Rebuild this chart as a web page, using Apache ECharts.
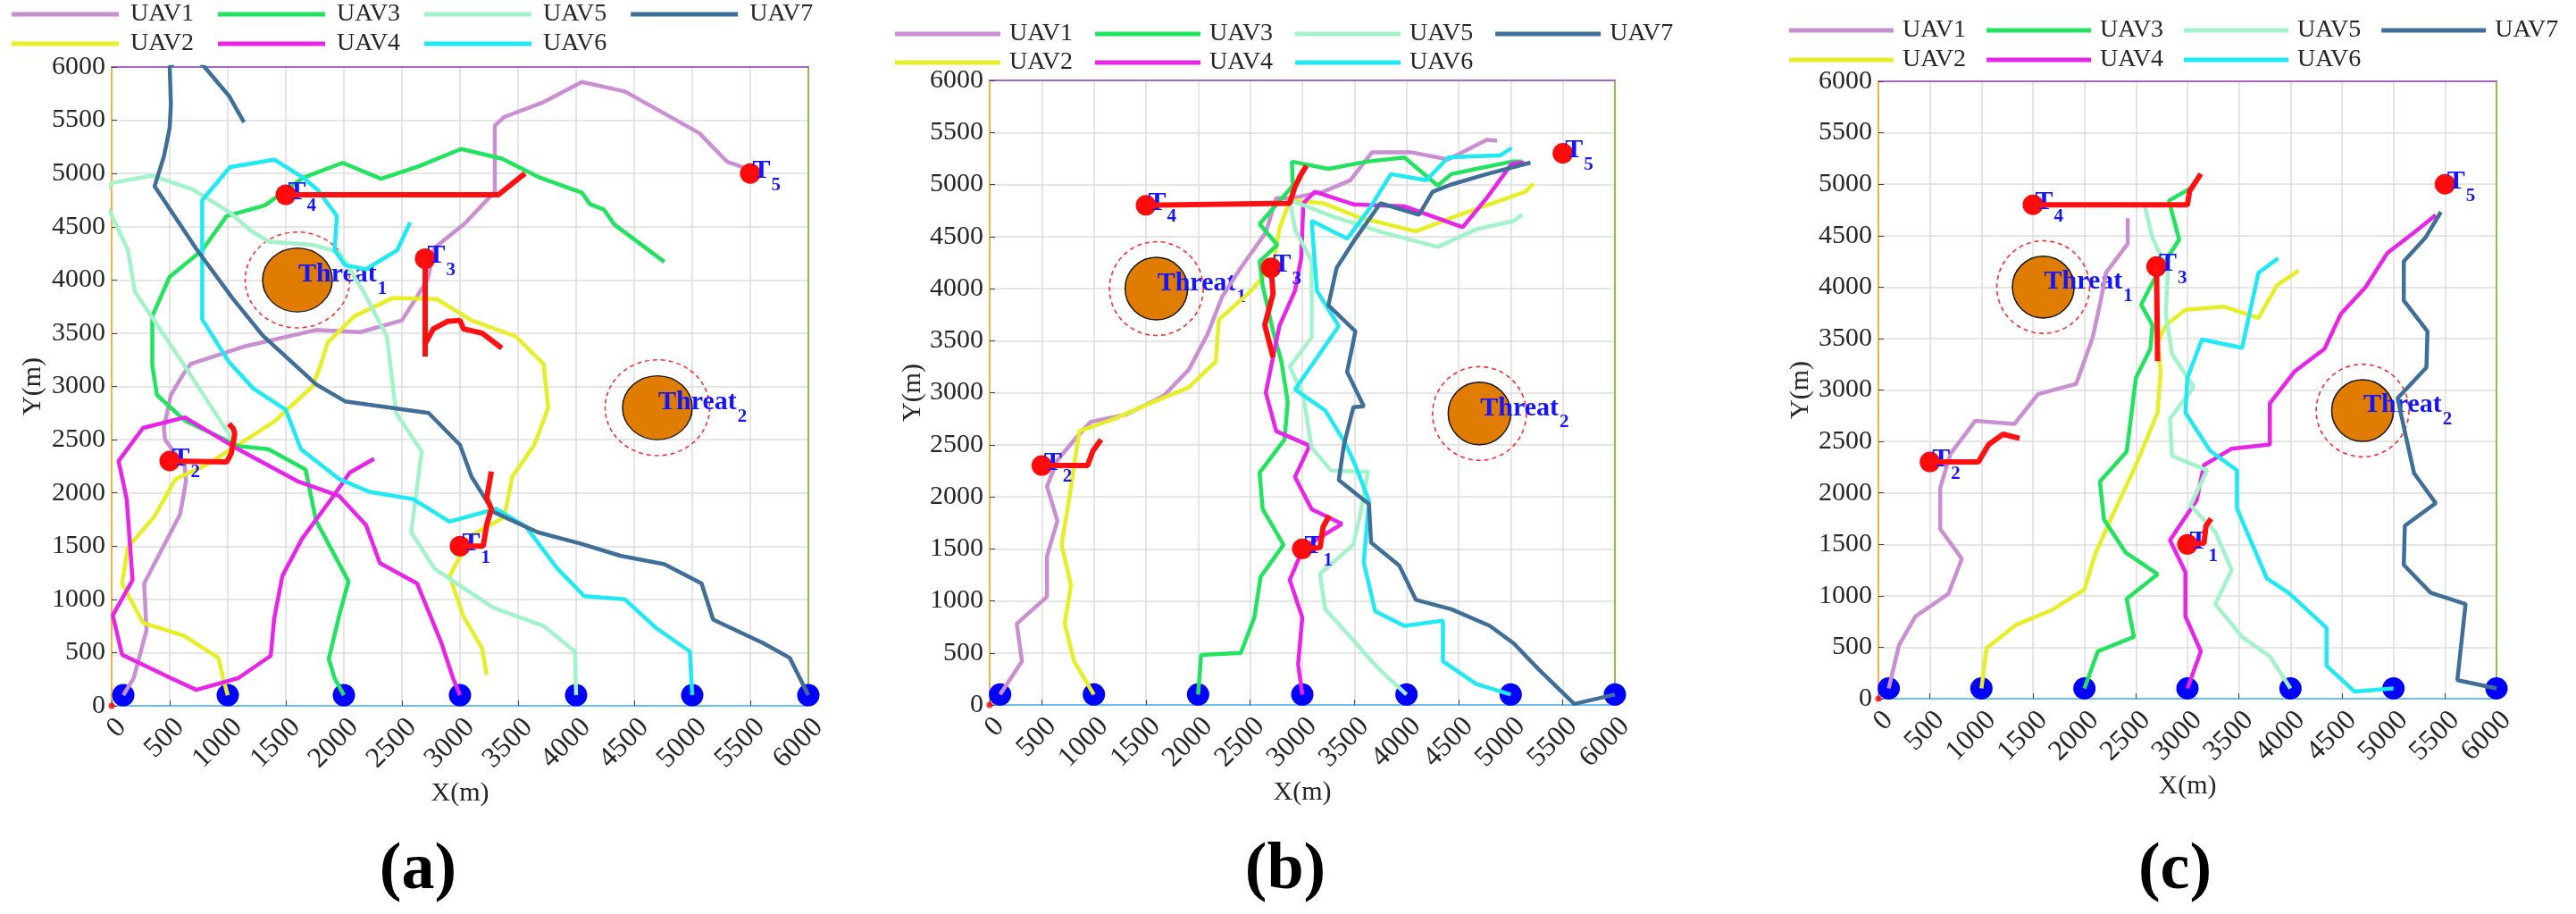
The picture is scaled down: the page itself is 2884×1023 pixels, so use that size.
<!DOCTYPE html>
<html>
<head>
<meta charset="utf-8">
<title>UAV task paths</title>
<script src="https://cdn.jsdelivr.net/npm/echarts@6/dist/echarts.min.js"></script>
<style>
html, body { margin: 0; padding: 0; background: #fff; }
#main { width: 2884px; height: 1023px; }
</style>
</head>
<body>
<div id="main"></div>
<script>
// names and colours of the seven UAVs
var uavNames = ['UAV1', 'UAV2', 'UAV3', 'UAV4', 'UAV5', 'UAV6', 'UAV7'];
var uavColors = ['#c98fd2', '#e6ef26', '#22e35e', '#e824e8', '#a2f2ca', '#1fe9f2', '#3f6f98'];
var legendRow1 = ['UAV1', 'UAV3', 'UAV5', 'UAV7'];
var legendRow2 = ['UAV2', 'UAV4', 'UAV6'];

var startX = [100, 1000, 2000, 3000, 4000, 5000, 6000];
var startY = [100, 100, 100, 100, 100, 100, 100];

var targetIds = ['1', '2', '3', '4', '5'];
var targetsA = [[3000, 1500], [500, 2300], [2700, 4200], [1500, 4800], [5500, 5000]];
var targetsB = [[3000, 1500], [500, 2300], [2700, 4200], [1500, 4800], [5500, 5300]];
var targetsC = [[3000, 1500], [500, 2300], [2700, 4200], [1500, 4800], [5500, 5000]];

var threatIds = ['1', '2'];
var threatCenters = [[1600, 4000], [4700, 2800]];
var threatRadius = 300;
var safeRadius = 450;

var axisTicks = ['0', '500', '1000', '1500', '2000', '2500', '3000', '3500', '4000', '4500', '5000', '5500', '6000'];

// ---- panel (a) ----
var uav1A = [[100,100],[190,260],[300,710],[280,1150],[590,1800],[640,2110],[630,2250],[460,2500],[450,2610],[510,2920],[620,3120],[680,3210],[1160,3380],[1760,3530],[2140,3510],[2500,3620],[2720,4000],[2780,4300],[3040,4530],[3300,4830],[3300,5450],[3380,5530],[3720,5670],[4050,5860],[4420,5770],[5060,5380],[5300,5110],[5490,5040]];
var uav2A = [[1000,100],[960,260],[920,450],[620,660],[270,780],[90,1150],[140,1490],[370,1780],[550,2130],[810,2260],[1060,2430],[1400,2670],[1730,3000],[1800,3200],[1860,3410],[2090,3660],[2420,3830],[2800,3820],[3100,3620],[3480,3470],[3720,3210],[3760,2800],[3640,2450],[3450,2150],[3380,1770],[3100,1600],[2910,1220],[3030,840],[3190,540],[3230,290]];
var uav3A = [[2000,100],[1920,260],[1870,440],[1960,850],[2040,1170],[1760,1740],[1670,2220],[1350,2410],[1090,2440],[630,2680],[390,2920],[350,3200],[350,3660],[500,4030],[780,4280],[990,4600],[1320,4700],[1650,4960],[1990,5100],[2320,4950],[2650,5070],[3010,5230],[3360,5140],[3690,4960],[4050,4820],[4120,4710],[4240,4660],[4330,4520],[4760,4170]];
var uav4A = [[3000,100],[2940,260],[2840,590],[2630,1150],[2310,1340],[2190,1700],[1960,1970],[1600,2110],[1090,2410],[630,2710],[270,2610],[60,2300],[130,1940],[180,1180],[10,850],[90,480],[510,260],[730,150],[1090,260],[1370,470],[1400,820],[1470,1220],[1640,1570],[1910,1970],[2050,2190],[2260,2320]];
var uav5A = [[4000,100],[3990,510],[3720,750],[3290,920],[3040,1100],[2780,1290],[2580,1630],[2670,2390],[2450,2750],[2370,3470],[2170,3890],[1960,4260],[1730,4330],[1350,4360],[1190,4470],[1010,4640],[700,4850],[350,4980],[0,4910],[-80,4760],[0,4610],[140,4280],[200,3890],[630,3190],[1060,2470]];
var uav6A = [[5000,100],[4980,510],[4690,730],[4420,1000],[4070,1030],[3830,1300],[3570,1680],[3310,1850],[2910,1730],[2600,1940],[2220,2010],[1960,2130],[1630,2410],[1500,2780],[1220,2980],[1010,3230],[780,3630],[780,4750],[1020,5060],[1400,5130],[1650,4960],[1780,4840],[1940,4600],[1920,4280],[2010,4140],[2190,4100],[2460,4280],[2570,4540]];
var uav7A = [[6000,100],[5840,450],[5610,590],[5180,810],[5080,1150],[4760,1330],[4380,1410],[4050,1520],[3670,1630],[3290,1820],[3100,2150],[3000,2450],[2730,2750],[2010,2860],[1760,3020],[1550,3230],[1300,3480],[1040,3830],[730,4290],[370,4880],[450,5160],[500,5430],[510,5650],[500,6000],[650,6150],[800,6000],[1010,5730],[1140,5480]];
var taskA1 = [[3000,1500],[3200,1500],[3230,1700],[3270,1850],[3230,1950],[3270,2200]];
var taskA2 = [[500,2300],[990,2290],[1030,2370],[1060,2550],[1050,2600],[1010,2650]];
var taskA3 = [[2700,4200],[2700,3280]];
var taskA3b = [[2700,3400],[2770,3540],[2890,3610],[3000,3620],[3030,3540],[3190,3500],[3360,3360]];
var taskA4 = [[1500,4800],[3330,4800],[3560,5000]];

// ---- panel (b) ----
var uav1B = [[100,100],[310,420],[260,780],[550,1040],[550,1430],[650,1770],[550,2100],[650,2350],[840,2580],[970,2720],[1310,2790],[1670,2970],[1910,3220],[2090,3560],[2230,3920],[2410,4200],[2650,4540],[2750,4870],[2910,4870],[3200,4930],[3460,5040],[3670,5310],[4040,5310],[4400,5240],[4770,5430],[4870,5420]];
var uav2B = [[1000,100],[810,420],[720,780],[780,1150],[690,1540],[760,1960],[860,2630],[1200,2750],[1520,2890],[1910,3050],[2170,3300],[2200,3700],[2510,3980],[2720,4230],[2780,4570],[2880,4850],[3200,4820],[3560,4680],[4090,4550],[4510,4710],[5140,4930],[5220,5010]];
var uav3B = [[2000,100],[2030,480],[2410,500],[2540,840],[2600,1230],[2820,1540],[2620,1880],[2590,2230],[2830,2550],[2860,2910],[2800,3300],[2720,3590],[2620,4030],[2590,4260],[2760,4420],[2590,4620],[2910,4990],[2900,5220],[3250,5150],[3620,5220],[3980,5260],[4300,4990],[4430,5100],[4670,5150],[5010,5220],[5110,5220]];
var uav4B = [[3000,100],[2960,390],[3000,840],[2880,1200],[3010,1510],[3380,1740],[3090,1880],[2930,2190],[3070,2490],[2750,2630],[2650,3000],[2780,3640],[2930,3980],[2990,4300],[3010,4820],[3120,4930],[3490,4810],[3980,4790],[4540,4590],[4770,4870],[5010,5200],[5130,5210]];
var uav5B = [[4000,100],[3720,360],[3490,620],[3220,920],[3170,1260],[3490,1540],[3560,1850],[3630,2240],[3280,2250],[3090,2470],[3010,2970],[2880,3250],[3090,3530],[3090,4260],[2930,4570],[2880,4850],[3300,4690],[3770,4540],[4300,4400],[4670,4570],[5030,4650],[5110,4710]];
var uav6B = [[5000,100],[4670,200],[4350,420],[4350,810],[3980,760],[3700,900],[3590,1370],[3640,1960],[3510,2300],[3410,2520],[3220,2830],[2930,3030],[3350,3640],[3140,3980],[3090,4650],[3430,4480],[3640,4760],[3850,5100],[4190,5040],[4400,5260],[4610,5270],[4900,5280],[5010,5350]];
var uav7B = [[6000,100],[5610,10],[5270,340],[5030,590],[4800,760],[4430,920],[4090,1010],[3930,1340],[3660,1560],[3640,1930],[3350,2160],[3400,2500],[3490,2860],[3590,2870],[3430,3200],[3510,3590],[3250,3840],[3330,4200],[3510,4480],[3750,4820],[4120,4710],[4250,4930],[4430,5000],[4770,5100],[5190,5210]];
var taskB1 = [[3000,1500],[3170,1510],[3200,1710],[3260,1820]];
var taskB2 = [[500,2300],[940,2300],[990,2440],[1070,2550]];
var taskB3 = [[2700,4200],[2720,3950],[2640,3650],[2720,3340]];
var taskB4 = [[1500,4800],[2880,4820],[2930,4980],[2990,5100],[3040,5180]];

// ---- panel (c) ----
var uav1C = [[100,100],[200,520],[360,800],[680,1020],[810,1360],[600,1650],[600,2050],[700,2380],[940,2700],[1320,2670],[1550,2960],[1920,3060],[2080,3510],[2160,3880],[2210,4140],[2420,4420],[2420,4670]];
var uav2C = [[1000,100],[1050,490],[1340,720],[1680,860],[2000,1060],[2110,1420],[2290,1820],[2500,2270],[2710,2780],[2740,3180],[2710,3460],[2790,3630],[2980,3780],[3350,3810],[3690,3700],[3870,4020],[4080,4160]];
var uav3C = [[2000,100],[2130,460],[2480,600],[2410,970],[2710,1210],[2400,1420],[2190,1740],[2150,2110],[2410,2400],[2500,3120],[2640,3400],[2660,3630],[2550,3830],[2710,4140],[2920,4460],[2820,4840],[3030,4960]];
var uav4C = [[3000,100],[3130,460],[2980,800],[2980,1230],[2830,1540],[3090,1930],[3160,2270],[3430,2430],[3800,2470],[3800,2870],[4040,3180],[4330,3400],[4490,3740],[4730,4000],[4940,4330],[5200,4530],[5410,4700]];
var uav5C = [[4000,100],[3800,410],[3530,600],[3270,920],[3430,1250],[3270,1620],[3030,1880],[3190,2220],[2850,2360],[2830,2720],[3060,3030],[2850,3350],[2790,3740],[2810,4160],[2660,4480],[2580,4810]];
var uav6C = [[5000,100],[4620,70],[4350,320],[4350,690],[3980,1030],[3770,1170],[3480,1850],[3480,2220],[3220,2410],[2980,2780],[3000,3120],[3140,3490],[3530,3410],[3690,4140],[3880,4280]];
var uav7C = [[6000,100],[5620,180],[5700,920],[5360,1030],[5100,1300],[5110,1680],[5410,1900],[5200,2190],[5120,2550],[5040,2920],[5320,3220],[5330,3570],[5100,3870],[5100,4250],[5310,4480],[5460,4730]];
var taskC1 = [[3000,1500],[3160,1510],[3180,1680],[3230,1750]];
var taskC2 = [[500,2300],[970,2300],[1070,2470],[1210,2570],[1370,2530]];
var taskC3 = [[2700,4200],[2710,3280]];
var taskC4 = [[1500,4800],[3000,4800],[3020,4930],[3090,5040],[3130,5100]];

var serif = 'Liberation Serif';
var textColor = '#262626';
var blueText = '#1414ff';

// layout of each sub figure (pixel placement only)
var panels = [
    { grid: { left: 125, top: 75, width: 780, height: 715 }, paths: [uav1A, uav2A, uav3A, uav4A, uav5A, uav6A, uav7A],
      tasks: [taskA1, taskA2, taskA3, taskA3b, taskA4], targets: targetsA, letter: '(a)', letterX: 468,
      legendLeft: 13, legendRows: [16, 49], lineLen: 120, textPad: 8, gap: 27, xNameGap: 72, yNameGap: 73 },
    { grid: { left: 1108, top: 90, width: 700, height: 699 }, paths: [uav1B, uav2B, uav3B, uav4B, uav5B, uav6B, uav7B],
      tasks: [taskB1, taskB2, taskB3, taskB4], targets: targetsB, letter: '(b)', letterX: 1439,
      legendLeft: 1002, legendRows: [38, 70], lineLen: 118, textPad: 5, gap: 25, xNameGap: 74, yNameGap: 69 },
    { grid: { left: 2103, top: 91, width: 692, height: 691 }, paths: [uav1C, uav2C, uav3C, uav4C, uav5C, uav6C, uav7C],
      tasks: [taskC1, taskC2, taskC3, taskC4], targets: targetsC, letter: '(c)', letterX: 2435,
      legendLeft: 2003, legendRows: [34, 67], lineLen: 117, textPad: 5, gap: 23, xNameGap: 71, yNameGap: 72 }
];

// "T" / "Threat" with a subscript: label rich style and raw zrender rich style
var subRich = {
    t: { fontFamily: serif, fontWeight: 'bold', fontSize: 30, color: blueText },
    s: { fontFamily: serif, fontWeight: 'bold', fontSize: 21, color: blueText, padding: [32, 0, 0, 1] }
};
var threatRich = {
    t: { fontFamily: serif, fontWeight: 'bold', fontSize: 30, fill: blueText },
    s: { fontFamily: serif, fontWeight: 'bold', fontSize: 21, fill: blueText, padding: [32, 0, 0, 1] }
};

function renderThreat(params, api) {
    var c = api.coord([api.value(0), api.value(1)]);
    var core = api.size([threatRadius, threatRadius]);
    var ring = api.size([safeRadius, safeRadius]);
    return {
        type: 'group',
        children: [
            { type: 'circle', x: c[0], y: c[1], scaleY: ring[1] / ring[0], shape: { cx: 0, cy: 0, r: ring[0] },
              style: { fill: 'none', stroke: '#ff2a2a', lineWidth: 1.6, lineDash: [5, 4] } },
            { type: 'circle', x: c[0], y: c[1], scaleY: core[1] / core[0], shape: { cx: 0, cy: 0, r: core[0] },
              style: { fill: '#e07d00', stroke: '#151515', lineWidth: 1.5 } },
            { type: 'text', x: c[0] + 1, y: c[1] - 6,
              style: { text: '{t|Threat}{s|' + threatIds[params.dataIndex] + '}', rich: threatRich,
                       fill: blueText, verticalAlign: 'middle', align: 'left' } }
        ]
    };
}

var option = {
    animation: false,
    backgroundColor: '#fff',
    grid: [], xAxis: [], yAxis: [], legend: [], series: [], graphic: []
};

panels.forEach(function(p, i) {
    option.grid.push(p.grid);

    var labelStyle = { fontFamily: serif, color: textColor };
    option.xAxis.push({
        gridIndex: i, type: 'value', position: 'bottom', min: 0, max: 6000, interval: 500,
        name: 'X(m)', nameLocation: 'middle', nameGap: p.xNameGap,
        nameTextStyle: { fontFamily: serif, fontSize: 30, color: textColor },
        axisLine: { onZero: false, lineStyle: { color: '#6cc0ea', width: 2 } },
        axisTick: { inside: true, length: 6, lineStyle: { color: '#444' } },
        axisLabel: Object.assign({ rotate: 45, fontSize: 32, margin: 8, verticalAlign: 'top',
            formatter: function(v) { return axisTicks[Math.round(v / 500)]; } }, labelStyle),
        splitLine: { lineStyle: { color: '#dddddd', width: 1.5 } }
    });
    option.xAxis.push({
        gridIndex: i, type: 'value', position: 'top', min: 0, max: 6000, interval: 500,
        axisLine: { onZero: false, lineStyle: { color: '#a467c2', width: 2 } },
        axisTick: { show: false }, axisLabel: { show: false }, splitLine: { show: false }
    });
    option.yAxis.push({
        gridIndex: i, type: 'value', position: 'left', min: 0, max: 6000, interval: 500,
        name: 'Y(m)', nameLocation: 'middle', nameGap: p.yNameGap,
        nameTextStyle: { fontFamily: serif, fontSize: 30, color: textColor },
        axisLine: { show: true, onZero: false, lineStyle: { color: '#f2b24a', width: 2 } },
        axisTick: { show: true, inside: true, length: 6, lineStyle: { color: '#444' } },
        axisLabel: Object.assign({ fontSize: 30, margin: 7,
            formatter: function(v) { return axisTicks[Math.round(v / 500)]; } }, labelStyle),
        splitLine: { lineStyle: { color: '#dddddd', width: 1.5 } }
    });
    option.yAxis.push({
        gridIndex: i, type: 'value', position: 'right', min: 0, max: 6000, interval: 500,
        axisLine: { show: true, onZero: false, lineStyle: { color: '#8cc24c', width: 2 } },
        axisTick: { show: false }, axisLabel: { show: false }, splitLine: { show: false }
    });

    var xi = i * 2, yi = i * 2;

    // two legend rows per panel
    [legendRow1, legendRow2].forEach(function(row, r) {
        option.legend.push({
            data: row, left: p.legendLeft, top: p.legendRows[r] - 14, padding: 0,
            icon: 'rect', itemWidth: p.lineLen, itemHeight: 5, itemGap: p.gap, selectedMode: false,
            textStyle: { fontFamily: serif, fontSize: 28, lineHeight: 28, color: textColor, padding: [0, 0, 0, p.textPad] }
        });
    });

    // threat zones
    option.series.push({
        type: 'custom', xAxisIndex: xi, yAxisIndex: yi, z: 1, silent: true,
        renderItem: renderThreat, data: threatCenters
    });

    // start points
    option.series.push({
        type: 'scatter', xAxisIndex: xi, yAxisIndex: yi, z: 2, symbolSize: 25, silent: true,
        itemStyle: { color: '#0000ff', opacity: 1 },
        data: startX.map(function(x, k) { return [x, startY[k]]; })
    });

    // UAV trajectories
    p.paths.forEach(function(path, k) {
        option.series.push({
            type: 'line', name: uavNames[k], xAxisIndex: xi, yAxisIndex: yi, z: 3,
            data: path, symbol: 'none', showSymbol: false, clip: true, silent: true,
            lineStyle: { color: uavColors[k], width: 4.5 }, itemStyle: { color: uavColors[k] }
        });
    });

    // targets
    option.series.push({
        type: 'scatter', xAxisIndex: xi, yAxisIndex: yi, z: 4, symbolSize: 23, silent: true,
        itemStyle: { color: '#ff0a0a', opacity: 1 },
        label: {
            show: true, position: 'right', distance: -9, offset: [0, -3],
            formatter: function(pr) { return '{t|T}{s|' + targetIds[pr.dataIndex] + '}'; },
            rich: subRich
        },
        data: p.targets
    });

    // task assignment tracks (red)
    p.tasks.forEach(function(t) {
        option.series.push({
            type: 'line', xAxisIndex: xi, yAxisIndex: yi, z: 5, data: t, symbol: 'none', silent: true,
            lineStyle: { color: '#ff1010', width: 6 }
        });
    });

    // small red marker at the origin
    option.series.push({
        type: 'scatter', xAxisIndex: xi, yAxisIndex: yi, z: 6, symbolSize: 7, silent: true,
        itemStyle: { color: '#ff0000' }, data: [[0, 0]]
    });

    option.graphic.push({
        type: 'text', x: p.letterX, y: 975,
        style: { text: p.letter, font: 'bold 74px "Liberation Serif"', fill: '#000', align: 'center', verticalAlign: 'middle' }
    });
});

var myChart = echarts.init(document.getElementById('main'));
myChart.setOption(option);
</script>
</body>
</html>
